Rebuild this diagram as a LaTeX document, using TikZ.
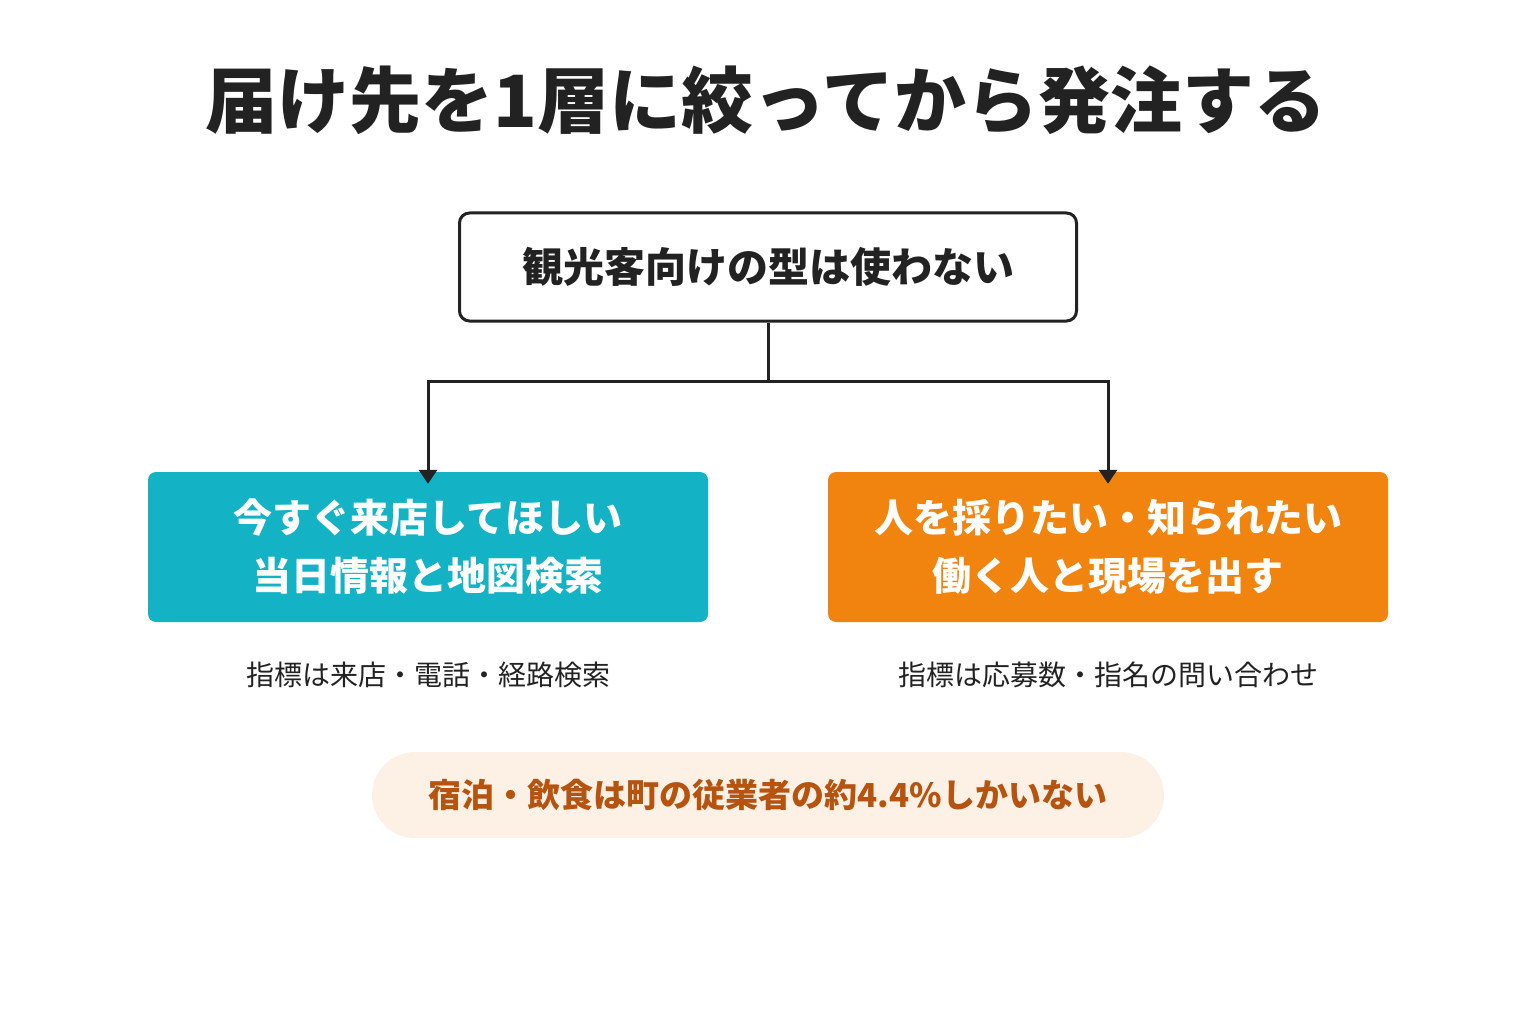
\documentclass[tikz,border=0pt]{standalone}
\usepackage{fontspec}
\setmainfont{Noto Sans CJK JP}
\usetikzlibrary{positioning,arrows.meta}
\definecolor{ink}{HTML}{222222}
\definecolor{teal}{HTML}{14B2C5}
\definecolor{orng}{HTML}{F0840F}
\definecolor{pill}{HTML}{FDF1E6}
\definecolor{brwn}{HTML}{B5530F}
\tikzset{
  card/.style={rounded corners=8pt,minimum width=560pt,minimum height=150pt,text=white,align=center,font=\fontsize{39}{58}\selectfont\bfseries},
  note/.style={text=ink,font=\fontsize{28}{34}\selectfont},
  link/.style={draw=ink,line width=3pt,-{Triangle[length=14pt,width=18pt]}}
}
\begin{document}
\begin{tikzpicture}[x=1pt,y=-1pt]
\useasboundingbox (0,0) rectangle (1536,1024);

\node[text=ink,font=\fontsize{72}{86}\selectfont\bfseries] (title) at (766,100) {届け先を1層に絞ってから発注する};

\node[draw=ink,line width=3pt,rounded corners=10pt,minimum width=617pt,minimum height=108pt,text=ink,font=\fontsize{41}{50}\selectfont\bfseries] (top) at (768,267) {観光客向けの型は使わない};

\node[card,fill=teal] (shop) at (428,547) {今すぐ来店してほしい\\当日情報と地図検索};
\node[card,fill=orng] (hire) at (1108,547) {人を採りたい・知られたい\\働く人と現場を出す};

\node[note] (shopnote) at (428,675) {指標は来店・電話・経路検索};
\node[note] (hirenote) at (1108,675) {指標は応募数・指名の問い合わせ};

\coordinate (fork) at (768,381);
\draw[draw=ink,line width=3pt] (top.south) -- (fork);
\draw[link] (fork) -| ([yshift=-12pt]shop.north);
\draw[link] (fork) -| ([yshift=-12pt]hire.north);

\node[fill=pill,rounded corners=43pt,minimum width=792pt,minimum height=86pt,text=brwn,font=\fontsize{33}{40}\selectfont\bfseries] (fact) at (768,795) {宿泊・飲食は町の従業者の約4.4\%しかいない};
\end{tikzpicture}
\end{document}
